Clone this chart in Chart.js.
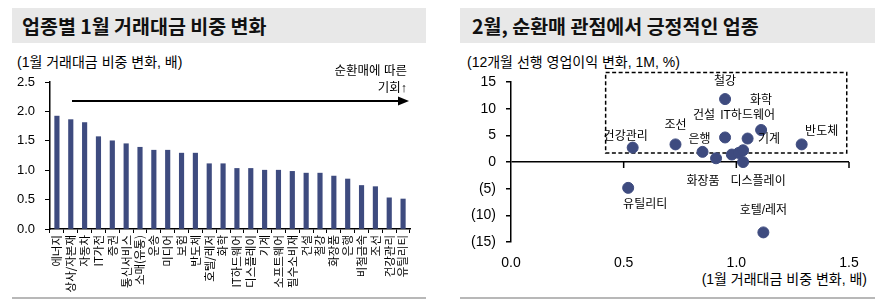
<!DOCTYPE html>
<html><head><meta charset="utf-8">
<script src="https://cdn.jsdelivr.net/npm/chart.js@4"></script>
<style>
html,body{margin:0;padding:0;}
body{width:888px;height:303px;background:#fff;position:relative;overflow:hidden;font-family:'Liberation Sans','Noto Sans CJK KR',sans-serif;color:#000;}
.band{position:absolute;top:8px;height:35px;background:#e8e8e8;}
.title{position:absolute;top:8px;height:35px;line-height:35px;font-family:'Noto Sans CJK KR',sans-serif;font-weight:bold;font-size:19.5px;color:#111;white-space:nowrap;}
.sub{position:absolute;font-family:'Liberation Sans','Noto Sans CJK KR',sans-serif;font-size:14px;white-space:nowrap;line-height:16px;}
.rule{position:absolute;top:297px;height:2px;background:#b8b8b8;}
canvas{position:absolute;top:0;}
</style>
</head><body>
<div class="band" style="left:12px;width:414px;"></div>
<div class="band" style="left:460px;width:415px;"></div>
<div class="title" style="left:22px;">업종별 1월 거래대금 비중 변화</div>
<div class="title" style="left:472px;">2월, 순환매 관점에서 긍정적인 업종</div>
<div class="sub" style="left:17px;top:54px;">(1월 거래대금 비중 변화, 배)</div>
<div class="sub" style="left:467px;top:54px;">(12개월 선행 영업이익 변화, 1M, %)</div>
<div class="sub" style="right:21px;top:271px;">(1월 거래대금 비중 변화, 배)</div>
<div class="rule" style="left:12px;width:414px;"></div>
<div class="rule" style="left:460px;width:415px;"></div>
<canvas id="c1" width="444" height="303" style="left:0;width:444px;height:303px;"></canvas>
<canvas id="c2" width="444" height="303" style="left:444px;width:444px;height:303px;"></canvas>
<script>
// ---------- data ----------
const barCategories = ['에너지','상사/자본재','자동차','IT가전','증권','통신서비스','소매(유통)','운송','미디어','보험','반도체','호텔/레저','화학','IT하드웨어','디스플레이','기계','소프트웨어','필수소비재','건설','철강','화장품','은행','비철금속','조선','건강관리','유틸리티'];
const barValues = [1.92,1.86,1.81,1.57,1.50,1.45,1.39,1.34,1.34,1.29,1.29,1.11,1.11,1.03,1.03,1.00,1.00,0.98,0.95,0.95,0.90,0.85,0.74,0.72,0.53,0.51];
const barYTicks = [0,0.5,1.0,1.5,2.0,2.5];

const scatterNames = ['건강관리','조선','은행','화장품','철강','건설','','','기계','디스플레이','IT하드웨어','화학','반도체','유틸리티','호텔/레저'];
const scatterX = [0.54,0.73,0.85,0.91,0.95,0.95,0.98,1.01,1.03,1.03,1.05,1.11,1.29,0.52,1.12];
const scatterY = [2.7,3.3,1.9,0.7,11.8,4.6,1.4,1.7,2.2,0.0,4.4,6.0,3.3,-4.85,-13.2];
const scatterXTicks = [0,0.5,1.0,1.5];
const scatterYTicks = [-15,-10,-5,0,5,10,15];
const focusBox = {xMin:0.42, xMax:1.49, yMin:1.7, yMax:16.8};

// ---------- styles ----------
Chart.defaults.font.family = "'Liberation Sans','Noto Sans CJK KR',sans-serif";
Chart.defaults.color = '#000';
const NAVY = '#3e4b7f';

// ---------- left bar chart ----------
const arrowPlugin = {
  id:'arrowNote',
  afterDraw(chart){
    const ctx = chart.ctx, a = chart.chartArea;
    ctx.save();
    ctx.strokeStyle = '#000'; ctx.fillStyle = '#000'; ctx.lineWidth = 2;
    const y = 101, x0 = 72, x1 = a.right - 1;
    ctx.beginPath(); ctx.moveTo(x0, y); ctx.lineTo(x1 - 8, y); ctx.stroke();
    ctx.beginPath(); ctx.moveTo(x1, y); ctx.lineTo(x1 - 11, y - 4.5); ctx.lineTo(x1 - 11, y + 4.5); ctx.closePath(); ctx.fill();
    ctx.font = "12.5px 'Liberation Sans','Noto Sans CJK KR',sans-serif";
    ctx.textAlign = 'right'; ctx.textBaseline = 'middle';
    ctx.fillText('순환매에 따른', a.right - 3, 72);
    ctx.fillText('기회↑', a.right - 3, 89);
    ctx.restore();
  }
};

new Chart(document.getElementById('c1'), {
  type:'bar',
  data:{labels:barCategories, datasets:[{data:barValues, backgroundColor:NAVY, barThickness:4.5, borderWidth:0}]},
  options:{
    responsive:false, animation:false,
    layout:{padding:{top:82,right:34,left:0,bottom:0}},
    plugins:{legend:{display:false}, tooltip:{enabled:false}},
    scales:{
      x:{
        grid:{drawOnChartArea:false, drawTicks:true, tickLength:4, color:'#000', offset:true},
        border:{display:true, color:'#000', width:1.5},
        ticks:{autoSkip:false, minRotation:90, maxRotation:90, padding:2, font:{size:11.5, family:"'Noto Sans CJK KR',sans-serif"}, color:'#000'},
        afterFit(s){ s.height = 74; }
      },
      y:{
        min:0, max:2.5,
        afterBuildTicks(s){ s.ticks = barYTicks.map(v=>({value:v})); },
        grid:{drawOnChartArea:false, drawTicks:true, tickLength:5, color:'#000'},
        border:{display:true, color:'#000', width:1.5},
        ticks:{padding:10, font:{size:13}, color:'#000', callback:v=>Number(v).toFixed(1)},
        afterFit(s){ s.width = 50; }
      }
    }
  },
  plugins:[arrowPlugin]
});

// ---------- right scatter chart ----------
const labelOffsets = {
  '철강':[0,-17], '화학':[0,-29], '건설':[-21,-22], 'IT하드웨어':[0,-23], '기계':[26,-11],
  '조선':[0,-19], '건강관리':[-7,-11], '은행':[-3,-12], '반도체':[20,-13], '화장품':[-13,23],
  '디스플레이':[15,20], '유틸리티':[17,17], '호텔/레저':[0,-22]
};
const scatterDecor = {
  id:'scatterDecor',
  beforeDatasetsDraw(chart){
    const ctx = chart.ctx, xs = chart.scales.x, ys = chart.scales.y;
    ctx.save();
    ctx.strokeStyle = '#000'; ctx.lineWidth = 1.5; ctx.setLineDash([4,2.5]);
    const l = xs.getPixelForValue(focusBox.xMin), r = xs.getPixelForValue(focusBox.xMax);
    const t = ys.getPixelForValue(focusBox.yMax), b = ys.getPixelForValue(focusBox.yMin);
    ctx.strokeRect(l, t, r - l, b - t);
    ctx.setLineDash([]);
    const y0 = ys.getPixelForValue(0);
    ctx.lineWidth = 1.5;
    scatterXTicks.filter(v=>v>0).forEach(v=>{
      const px = xs.getPixelForValue(v);
      ctx.beginPath(); ctx.moveTo(px, y0); ctx.lineTo(px, y0 + 6); ctx.stroke();
    });
    ctx.restore();
  },
  afterDatasetsDraw(chart){
    const ctx = chart.ctx, meta = chart.getDatasetMeta(0);
    ctx.save();
    ctx.font = "12px 'Liberation Sans','Noto Sans CJK KR',sans-serif";
    ctx.fillStyle = '#000'; ctx.textAlign = 'center'; ctx.textBaseline = 'middle';
    meta.data.forEach((pt, i)=>{
      const name = scatterNames[i];
      if(!name) return;
      const off = labelOffsets[name] || [0,-14];
      ctx.fillText(name, pt.x + off[0], pt.y + off[1]);
    });
    ctx.restore();
  }
};

new Chart(document.getElementById('c2'), {
  type:'scatter',
  data:{datasets:[{
    data:scatterX.map((x,i)=>({x:x, y:scatterY[i]})),
    backgroundColor:NAVY, borderColor:NAVY, pointRadius:5.5, pointHoverRadius:5.5
  }]},
  options:{
    responsive:false, animation:false,
    layout:{padding:{top:82,right:39,left:0,bottom:0}},
    plugins:{legend:{display:false}, tooltip:{enabled:false}},
    scales:{
      x:{
        type:'linear', min:0, max:1.5,
        afterBuildTicks(s){ s.ticks = scatterXTicks.map(v=>({value:v})); },
        grid:{display:false},
        border:{display:false},
        ticks:{padding:5, font:{size:14}, color:'#000', callback:v=>Number(v).toFixed(1)},
        afterFit(s){ s.height = 61; }
      },
      y:{
        min:-15, max:15,
        afterBuildTicks(s){ s.ticks = scatterYTicks.map(v=>({value:v})); },
        grid:{drawOnChartArea:true, drawTicks:true, tickLength:5,
              color:c=> (c.tick && c.tick.value===0) ? '#000' : 'rgba(0,0,0,0)',
              tickColor:'#000', lineWidth:1.5},
        border:{display:true, color:'#000', width:1.5},
        ticks:{padding:10, font:{size:14}, color:'#000', callback:v=> v<0 ? '('+Math.abs(v)+')' : String(v)},
        afterFit(s){ s.width = 67; }
      }
    }
  },
  plugins:[scatterDecor]
});
</script>
</body></html>
